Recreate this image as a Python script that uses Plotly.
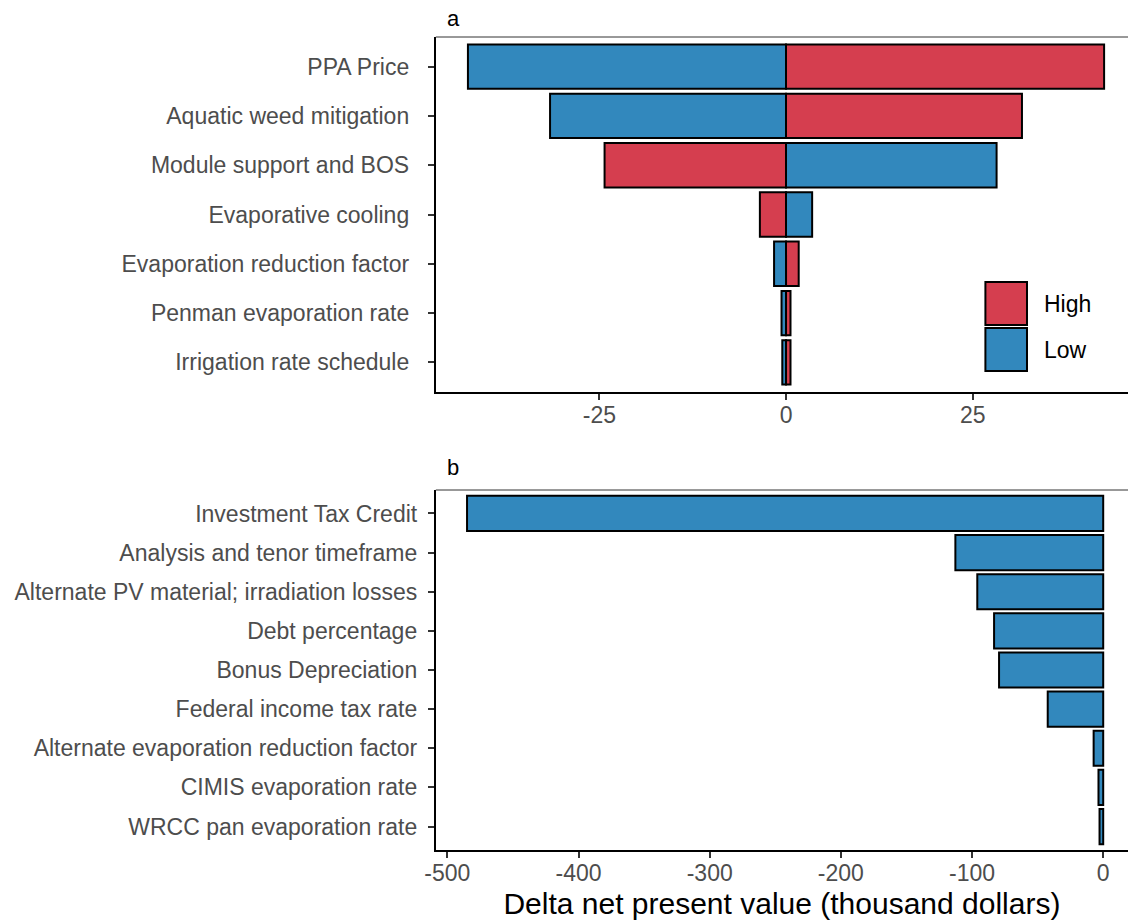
import plotly.graph_objects as go

# Panel a: tornado chart
a_vars = ["PPA Price", "Aquatic weed mitigation", "Module support and BOS",
          "Evaporative cooling", "Evaporation reduction factor",
          "Penman evaporation rate", "Irrigation rate schedule"]
a_high = [42.6, 31.6, -24.3, -3.5, 1.7, 0.6, 0.6]
a_low = [-42.6, -31.6, 28.2, 3.5, -1.6, -0.6, -0.5]

# Panel b
b_vars = ["Investment Tax Credit", "Analysis and tenor timeframe",
          "Alternate PV material; irradiation losses", "Debt percentage",
          "Bonus Depreciation", "Federal income tax rate",
          "Alternate evaporation reduction factor", "CIMIS evaporation rate",
          "WRCC pan evaporation rate"]
b_vals = [-485, -112.7, -96, -83.2, -79.4, -42.3, -7.3, -3.6, -2.8]

a_ticks = [-25, 0, 25]
b_ticks = [-500, -400, -300, -200, -100, 0]

RED = "#D53E4F"
BLUE = "#3288BD"
FONT = "Liberation Sans, Arial, sans-serif"
TICKC = "#4D4D4D"

fig = go.Figure()
fig.add_trace(go.Bar(y=a_vars, x=a_high, orientation="h", name="High",
                     marker=dict(color=RED, line=dict(color="black", width=2)),
                     width=0.9, xaxis="x", yaxis="y", showlegend=False))
fig.add_trace(go.Bar(y=a_vars, x=a_low, orientation="h", name="Low",
                     marker=dict(color=BLUE, line=dict(color="black", width=2)),
                     width=0.9, xaxis="x", yaxis="y", showlegend=False))
fig.add_trace(go.Bar(y=b_vars, x=b_vals, orientation="h", name="b",
                     marker=dict(color=BLUE, line=dict(color="black", width=2)),
                     width=0.9, xaxis="x2", yaxis="y2", showlegend=False))

W, H = 1128, 921
x0 = 429 / W

def ydom(top_px, bot_px):
    return [(H - bot_px) / H, (H - top_px) / H]

axis_common = dict(showgrid=False, zeroline=False, showline=True, linecolor="black",
                   linewidth=2, ticks="outside", ticklen=6, tickwidth=1.5,
                   tickcolor="#333333",
                   tickfont=dict(family=FONT, size=23, color=TICKC))

fig.update_layout(
    width=W, height=H,
    margin=dict(l=0, r=0, t=0, b=0),
    paper_bgcolor="white", plot_bgcolor="white",
    barmode="overlay",
    xaxis=dict(domain=[x0, 1], anchor="y", range=[-46.9, 45.8],
               tickvals=a_ticks, ticktext=[str(t) for t in a_ticks],
               ticklabelstandoff=-5, **axis_common),
    yaxis=dict(domain=ydom(37, 392), anchor="x", categoryorder="array",
               categoryarray=a_vars[::-1], range=[-0.6, 6.6], automargin=False,
               ticklabelstandoff=14, **axis_common),
    xaxis2=dict(domain=[x0, 1], anchor="y2", range=[-508.8, 18.9],
                tickvals=b_ticks, ticktext=[str(t) for t in b_ticks],
                ticklabelstandoff=-5,
                title=dict(text="Delta net present value (thousand dollars)",
                           font=dict(family=FONT, size=30, color="black"), standoff=8),
                **axis_common),
    yaxis2=dict(domain=ydom(490, 850), anchor="x2", categoryorder="array",
                categoryarray=b_vars[::-1], range=[-0.6, 8.6], automargin=False,
                ticklabelstandoff=6, **axis_common),
)

# top panel borders (thin)
for ytop in (37, 490):
    yp = (H - ytop) / H
    fig.add_shape(type="line", xref="paper", yref="paper", x0=x0, x1=1, y0=yp, y1=yp,
                  line=dict(color="#333333", width=1))

# panel tags
for tag, ypx in (("a", 18), ("b", 467)):
    fig.add_annotation(text=tag, xref="paper", yref="paper", x=438 / W, y=(H - ypx) / H,
                       xanchor="left", yanchor="middle", showarrow=False,
                       font=dict(family=FONT, size=22, color="black"))

# legend (manual keys)
for label, col, top in (("High", RED, 282), ("Low", BLUE, 328)):
    fig.add_shape(type="rect", xref="paper", yref="paper",
                  x0=984 / W, x1=1026 / W, y0=(H - (top + 43)) / H, y1=(H - top) / H,
                  fillcolor=col, line=dict(color="black", width=2))
    fig.add_annotation(text=label, xref="paper", yref="paper", x=1041 / W,
                       y=(H - (top + 22)) / H, xanchor="left", yanchor="middle",
                       showarrow=False, font=dict(family=FONT, size=23, color="black"))

fig.write_html("out.html", config={"displayModeBar": False},
               post_script="document.body.style.margin='0';document.body.style.overflow='hidden';")
